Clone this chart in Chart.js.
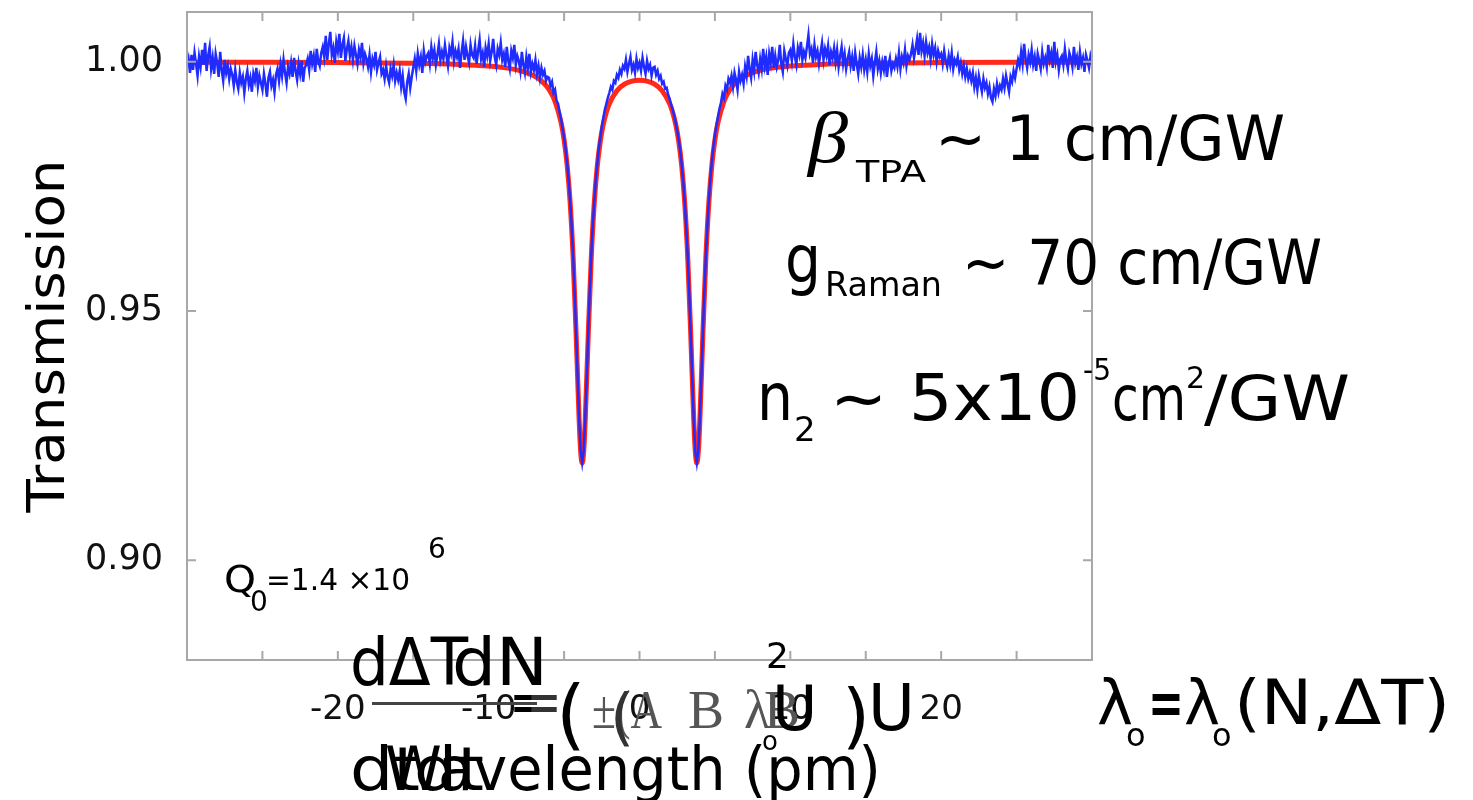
<!DOCTYPE html>
<html>
<head>
<meta charset="utf-8">
<script src="https://cdn.jsdelivr.net/npm/chart.js@4.4.1/dist/chart.umd.min.js"></script>
<style>
  body { margin: 0; background: #fff; }
  #wrap { width: 1473px; height: 800px; }
</style>
</head>
<body>
<div id="wrap"><canvas id="myChart" width="1473" height="800"></canvas></div>
<script>
// Measured transmission, sampled every 0.1 pm from -30 pm (one row = 1 pm)
const sampleStart = -30;
const sampleStep = 0.1;
const measured = [
  0.9992, 1.0006, 0.9978, 1.0014, 0.9984, 1.0018, 0.9996, 0.9972, 1.0010, 0.9990,
  1.0024, 0.9994, 1.0038, 0.9982, 1.0012, 1.0030, 0.9986, 1.0008, 0.9976, 1.0016,
  0.9998, 0.9970, 1.0020, 0.9984, 0.9962, 1.0004, 0.9978, 0.9992, 0.9966, 0.9986,
  0.9974, 0.9952, 0.9984, 0.9960, 0.9946, 0.9978, 0.9958, 0.9970, 0.9938, 0.9966,
  0.9982, 0.9954, 0.9968, 0.9940, 0.9976, 0.9962, 0.9988, 0.9950, 0.9972, 0.9958,
  0.9944, 0.9976, 0.9956, 0.9930, 0.9968, 0.9980, 0.9952, 0.9964, 0.9940, 0.9974,
  0.9986, 0.9962, 0.9994, 0.9972, 1.0004, 0.9978, 0.9958, 0.9990, 0.9976, 0.9998,
  0.9970, 1.0008, 0.9982, 0.9964, 0.9996, 0.9976, 1.0002, 0.9960, 0.9988, 0.9994,
  1.0006, 0.9984, 1.0022, 0.9996, 1.0012, 0.9980, 1.0026, 1.0002, 0.9992, 1.0018,
  1.0030, 1.0010, 1.0052, 1.0004, 1.0036, 1.0060, 1.0014, 1.0028, 0.9998, 1.0040,
  1.0022, 1.0056, 1.0008, 1.0034, 1.0048, 1.0002, 1.0026, 1.0042, 1.0012, 1.0030,
  1.0004, 1.0032, 1.0014, 0.9996, 1.0024, 1.0010, 1.0038, 0.9998, 1.0016, 1.0006,
  0.9990, 1.0014, 0.9980, 1.0006, 0.9994, 1.0020, 0.9984, 0.9998, 1.0010, 0.9976,
  0.9984, 0.9966, 0.9992, 0.9970, 0.9958, 0.9986, 0.9972, 0.9994, 0.9962, 0.9978,
  0.9964, 0.9982, 0.9950, 0.9972, 0.9940, 0.9926, 0.9960, 0.9976, 0.9948, 0.9970,
  0.9988, 1.0006, 0.9982, 1.0016, 0.9994, 1.0010, 0.9978, 1.0022, 1.0000, 1.0012,
  1.0018, 0.9996, 1.0030, 1.0008, 1.0024, 0.9994, 1.0014, 1.0036, 1.0004, 1.0020,
  1.0006, 1.0034, 1.0012, 0.9992, 1.0028, 1.0016, 1.0040, 1.0002, 1.0022, 1.0010,
  1.0026, 0.9988, 1.0018, 1.0042, 1.0004, 1.0030, 1.0012, 0.9998, 1.0034, 1.0014,
  1.0008, 1.0032, 0.9996, 1.0022, 1.0044, 1.0006, 1.0018, 0.9990, 1.0028, 1.0012,
  1.0036, 1.0002, 1.0020, 1.0046, 1.0010, 0.9994, 1.0026, 1.0014, 1.0038, 1.0004,
  1.0016, 0.9990, 1.0030, 1.0002, 0.9986, 1.0022, 1.0008, 1.0034, 0.9994, 1.0012,
  1.0002, 0.9982, 1.0020, 0.9994, 0.9978, 1.0010, 0.9988, 1.0016, 0.9980, 0.9996,
  0.9984, 1.0004, 0.9976, 0.9992, 0.9968, 0.9988, 0.9974, 0.9982, 0.9962, 0.9970,
  0.9968, 0.9952, 0.9960, 0.9938, 0.9944, 0.9922, 0.9916, 0.9900, 0.9886, 0.9866,
  0.9848, 0.9826, 0.9798, 0.9764, 0.9722, 0.9672, 0.9610, 0.9538, 0.9454, 0.9366,
  0.9282, 0.9220, 0.9196, 0.9220, 0.9282, 0.9366, 0.9454, 0.9538, 0.9610, 0.9672,
  0.9720, 0.9762, 0.9796, 0.9826, 0.9848, 0.9870, 0.9888, 0.9904, 0.9916, 0.9928,
  0.9938, 0.9950, 0.9944, 0.9962, 0.9958, 0.9974, 0.9968, 0.9984, 0.9976, 0.9992,
  0.9986, 1.0004, 0.9980, 0.9996, 1.0010, 0.9984, 0.9994, 0.9978, 1.0006, 0.9988,
  0.9998, 0.9982, 1.0008, 0.9990, 0.9976, 1.0002, 0.9986, 0.9994, 0.9972, 0.9988,
  0.9990, 0.9974, 0.9982, 0.9966, 0.9972, 0.9956, 0.9960, 0.9946, 0.9948, 0.9934,
  0.9926, 0.9914, 0.9904, 0.9892, 0.9878, 0.9862, 0.9844, 0.9822, 0.9794, 0.9760,
  0.9718, 0.9668, 0.9608, 0.9536, 0.9452, 0.9364, 0.9280, 0.9218, 0.9196, 0.9220,
  0.9282, 0.9366, 0.9454, 0.9538, 0.9610, 0.9672, 0.9724, 0.9766, 0.9802, 0.9830,
  0.9854, 0.9872, 0.9890, 0.9906, 0.9918, 0.9936, 0.9928, 0.9952, 0.9944, 0.9966,
  0.9958, 0.9972, 0.9950, 0.9978, 0.9964, 0.9944, 0.9980, 0.9962, 0.9974, 0.9956,
  0.9990, 0.9972, 1.0012, 0.9986, 0.9968, 1.0004, 0.9982, 1.0020, 0.9994, 0.9978,
  1.0006, 0.9986, 1.0026, 0.9992, 1.0010, 0.9974, 1.0016, 0.9998, 1.0030, 0.9988,
  1.0012, 0.9990, 1.0004, 1.0034, 0.9996, 0.9980, 1.0022, 1.0006, 0.9992, 1.0018,
  1.0024, 1.0002, 1.0036, 1.0010, 0.9994, 1.0028, 1.0014, 1.0040, 1.0004, 1.0020,
  1.0008, 1.0030, 1.0054, 1.0016, 1.0026, 0.9998, 1.0034, 1.0010, 1.0022, 0.9996,
  1.0018, 1.0038, 1.0004, 1.0026, 1.0012, 1.0032, 0.9994, 1.0020, 1.0008, 1.0028,
  1.0000, 1.0024, 0.9990, 1.0012, 1.0030, 0.9996, 1.0016, 0.9986, 1.0006, 1.0020,
  0.9992, 1.0010, 0.9982, 1.0018, 0.9996, 0.9976, 1.0008, 0.9990, 1.0014, 0.9984,
  1.0004, 0.9980, 1.0016, 0.9992, 1.0006, 0.9972, 0.9998, 1.0020, 0.9986, 1.0002,
  0.9978, 1.0000, 0.9984, 1.0012, 0.9970, 0.9994, 1.0008, 0.9982, 0.9996, 0.9988,
  1.0006, 0.9990, 1.0018, 0.9986, 1.0010, 0.9998, 1.0024, 0.9992, 1.0012, 1.0004,
  1.0016, 1.0034, 1.0008, 1.0026, 1.0046, 1.0014, 1.0058, 1.0022, 1.0038, 1.0012,
  1.0040, 1.0018, 1.0030, 1.0006, 1.0036, 1.0014, 1.0028, 1.0000, 1.0022, 1.0010,
  1.0016, 0.9996, 1.0022, 1.0002, 0.9990, 1.0012, 0.9994, 1.0018, 0.9986, 1.0004,
  0.9996, 1.0010, 0.9984, 0.9998, 0.9976, 0.9992, 0.9970, 0.9986, 0.9966, 0.9978,
  0.9962, 0.9978, 0.9950, 0.9968, 0.9944, 0.9972, 0.9956, 0.9940, 0.9966, 0.9948,
  0.9958, 0.9936, 0.9950, 0.9928, 0.9920, 0.9946, 0.9932, 0.9956, 0.9938, 0.9952,
  0.9944, 0.9966, 0.9948, 0.9972, 0.9956, 0.9940, 0.9970, 0.9960, 0.9982, 0.9968,
  0.9986, 1.0004, 0.9992, 1.0020, 0.9996, 1.0036, 1.0006, 0.9988, 1.0014, 1.0000,
  1.0024, 0.9994, 1.0010, 0.9982, 1.0016, 1.0002, 0.9986, 1.0020, 0.9996, 1.0008,
  0.9990, 1.0034, 1.0004, 1.0018, 0.9988, 1.0040, 1.0000, 1.0014, 0.9984, 1.0006,
  1.0012, 0.9994, 1.0026, 1.0002, 0.9986, 1.0018, 1.0008, 0.9990, 1.0030, 0.9998,
  1.0010, 0.9984, 1.0020, 0.9996, 1.0008, 0.9980, 1.0014, 1.0002, 0.9988, 1.0012,
  1.0000
];

// Fit curve (red)
const fitX = [-30, -25, -20, -15, -12, -10, -9, -8, -7, -6.5,
  -6, -5.6, -5.2, -5, -4.8, -4.6, -4.4, -4.2, -4, -3.9,
  -3.8, -3.7, -3.6, -3.4, -3.2, -3, -2.8, -2.6, -2.4, -2.2,
  -2, -1.5, -1, -0.5, 0, 0.5, 1, 1.5, 2, 2.2,
  2.4, 2.6, 2.8, 3, 3.2, 3.4, 3.6, 3.7, 3.8, 3.9,
  4, 4.2, 4.4, 4.6, 4.8, 5, 5.2, 5.6, 6, 6.5,
  7, 8, 9, 10, 12, 15, 20, 25, 30];
const fitT = [0.99994, 0.99991, 0.99985, 0.99971, 0.99949, 0.99916, 0.99884, 0.99830, 0.99720, 0.99618,
  0.99447, 0.99209, 0.98784, 0.98437, 0.97933, 0.97186, 0.96074, 0.94518, 0.92798, 0.92183,
  0.91953, 0.92181, 0.92793, 0.94508, 0.96059, 0.97166, 0.97908, 0.98406, 0.98747, 0.98987,
  0.99160, 0.99421, 0.99551, 0.99614, 0.99632, 0.99614, 0.99551, 0.99421, 0.99160, 0.98987,
  0.98747, 0.98406, 0.97908, 0.97166, 0.96059, 0.94508, 0.92793, 0.92181, 0.91953, 0.92183,
  0.92798, 0.94518, 0.96074, 0.97186, 0.97933, 0.98437, 0.98784, 0.99209, 0.99447, 0.99618,
  0.99720, 0.99830, 0.99884, 0.99916, 0.99949, 0.99971, 0.99985, 0.99991, 0.99994];

// Axis ticks
const xTickValues = [-30, -25, -20, -15, -10, -5, 0, 5, 10, 15, 20, 25, 30];
const xTickLabels = ['', '', '-20', '', '-10', '', '0', '', '10', '', '20', '', ''];
const yTickValues = [0.90, 0.95, 1.00];
const yTickLabels = ['0.90', '0.95', '1.00'];

const measuredPoints = measured.map((t, i) => ({ x: +(sampleStart + i * sampleStep).toFixed(1), y: t }));
const fitPoints = fitX.map((x, i) => ({ x: x, y: fitT[i] }));

// Draw text, optionally squeezed/stretched to a given width
function put(ctx, s, x, y, size, opt) {
    opt = opt || {};
    ctx.save();
    ctx.font = (opt.style || '') + ' ' + size + 'px ' + (opt.family || '"DejaVu Sans"');
    ctx.fillStyle = opt.color || '#000';
    ctx.textAlign = 'left';
    ctx.textBaseline = 'alphabetic';
    ctx.translate(x, y);
    if (opt.w) {
        const m = ctx.measureText(s).width;
        ctx.scale(opt.w / m, 1);
    }
    ctx.fillText(s, 0, 0);
    ctx.restore();
}

const frame = {
    id: 'frame',
    afterDraw(chart) {
        const ctx = chart.ctx;
        const a = chart.chartArea;
        const xs = chart.scales.x, ys = chart.scales.y;
        ctx.save();
        ctx.strokeStyle = '#a8a8a8';
        ctx.lineWidth = 2;
        ctx.strokeRect(a.left, a.top, a.right - a.left, a.bottom - a.top);
        ctx.beginPath();
        xTickValues.forEach(v => {
            const px = xs.getPixelForValue(v);
            ctx.moveTo(px, a.top); ctx.lineTo(px, a.top + 9);
            ctx.moveTo(px, a.bottom); ctx.lineTo(px, a.bottom - 9);
        });
        yTickValues.forEach(v => {
            const py = ys.getPixelForValue(v);
            ctx.moveTo(a.left, py); ctx.lineTo(a.left + 9, py);
            ctx.moveTo(a.right, py); ctx.lineTo(a.right - 9, py);
        });
        ctx.stroke();
        ctx.restore();

        // y axis title
        ctx.save();
        ctx.translate(64, 336);
        ctx.rotate(-Math.PI / 2);
        ctx.font = '52px "DejaVu Sans"';
        const tw = ctx.measureText('Transmission').width;
        ctx.scale(353 / tw, 1);
        ctx.fillStyle = '#000';
        ctx.textAlign = 'center';
        ctx.fillText('Transmission', 0, 0);
        ctx.restore();

        // material constants
        put(ctx, 'β', 808, 162, 72, { family: '"Liberation Serif"', style: 'italic', w: 40 });
        put(ctx, 'TPA', 856, 182, 30, { w: 70 });
        put(ctx, '~ 1 cm/GW', 935, 160, 62, { w: 350 });
        put(ctx, 'g', 785, 282, 66, { w: 36 });
        put(ctx, 'Raman', 825, 296, 34, { w: 117 });
        put(ctx, '~ 70 cm/GW', 962, 284, 62, { w: 360 });
        put(ctx, 'n', 757, 420, 66, { w: 36 });
        put(ctx, '2', 794, 441, 34);
        put(ctx, '~ 5x10', 830, 420, 64, { w: 250 });
        put(ctx, '-5', 1083, 380, 30, { w: 28 });
        put(ctx, 'cm', 1112, 420, 62, { w: 74 });
        put(ctx, '2', 1186, 388, 30);
        put(ctx, '/GW', 1204, 420, 62, { w: 146 });

        // Q factor
        put(ctx, 'Q', 224, 592, 38, { w: 32 });
        put(ctx, '0', 250, 611, 28);
        put(ctx, '=1.4 ×10', 266, 590, 31, { w: 144 });
        put(ctx, '6', 428, 558, 28);

        // overlapping rate equations
        put(ctx, 'dΔT', 350, 685, 66, { w: 118 });
        put(ctx, 'dN', 452, 685, 66, { w: 96 });
        ctx.fillStyle = '#444';
        ctx.fillRect(372, 702, 165, 3);
        put(ctx, '=', 510, 722, 60, { w: 34 });
        put(ctx, '=', 527, 722, 60, { w: 34, color: '#333' });
        put(ctx, '(', 556, 740, 76);
        put(ctx, '±(A', 592, 728, 54, { family: '"Liberation Serif"', color: '#555', w: 70 });
        put(ctx, '(', 610, 738, 62, { color: '#333' });
        put(ctx, 'B', 688, 728, 54, { family: '"Liberation Serif"', color: '#555' });
        put(ctx, 'λ', 744, 728, 54, { family: '"Liberation Serif"', color: '#555' });
        put(ctx, 'B', 764, 728, 54, { family: '"Liberation Serif"', color: '#555' });
        put(ctx, 'U', 772, 730, 62);
        put(ctx, '2', 766, 668, 36);
        put(ctx, 'o', 762, 750, 26);
        put(ctx, ')', 842, 740, 72);
        put(ctx, 'U', 868, 730, 64);

        // x axis title with overlap
        put(ctx, 'Wavelength (pm)', 385, 790, 60, { w: 496 });
        put(ctx, 'dt', 350, 790, 60, { w: 70 });
        put(ctx, 'dt', 414, 790, 60, { w: 70 });

        // resonance wavelength
        put(ctx, 'λ', 1097, 724, 62, { w: 36 });
        put(ctx, 'o', 1126, 746, 32);
        put(ctx, '=', 1148, 724, 60, { style: 'bold', w: 36 });
        put(ctx, 'λ', 1184, 724, 62, { w: 36 });
        put(ctx, 'o', 1212, 746, 32);
        put(ctx, '(N,ΔT)', 1234, 724, 62, { w: 216 });
    }
};

const ctx = document.getElementById('myChart').getContext('2d');
new Chart(ctx, {
    type: 'scatter',
    data: {
        datasets: [{
            label: 'Measured',
            data: measuredPoints,
            showLine: true,
            borderColor: '#1f2bff',
            borderWidth: 2.5,
            pointRadius: 0,
            tension: 0
        }, {
            label: 'Fit',
            data: fitPoints,
            showLine: true,
            borderColor: '#ff2a1a',
            borderWidth: 5,
            pointRadius: 0,
            cubicInterpolationMode: 'monotone'
        }]
    },
    options: {
        responsive: false,
        animation: false,
        layout: { padding: { left: 0, top: 12, right: 381, bottom: 0 } },
        plugins: {
            legend: { display: false },
            tooltip: { enabled: false }
        },
        scales: {
            x: {
                type: 'linear',
                min: -30,
                max: 30,
                afterBuildTicks: s => { s.ticks = xTickValues.map(v => ({ value: v })); },
                afterFit: s => { s.height = 140; s.paddingLeft = 0; s.paddingRight = 0; },
                grid: { display: false, drawTicks: false },
                border: { display: false },
                ticks: {
                    autoSkip: false,
                    maxRotation: 0,
                    padding: 30,
                    color: '#111',
                    font: { family: 'DejaVu Sans', size: 34 },
                    callback: v => xTickLabels[xTickValues.indexOf(v)] || ''
                }
            },
            y: {
                type: 'linear',
                min: 0.88,
                max: 1.01,
                afterBuildTicks: s => { s.ticks = yTickValues.map(v => ({ value: v })); },
                afterFit: s => { s.width = 187; s.paddingTop = 0; s.paddingBottom = 0; },
                grid: { display: false, drawTicks: false },
                border: { display: false },
                ticks: {
                    padding: 24,
                    color: '#111',
                    font: { family: 'DejaVu Sans', size: 35 },
                    callback: v => {
                        const i = yTickValues.findIndex(t => Math.abs(t - v) < 1e-6);
                        return i >= 0 ? yTickLabels[i] : '';
                    }
                }
            }
        }
    },
    plugins: [frame]
});
</script>
</body>
</html>
